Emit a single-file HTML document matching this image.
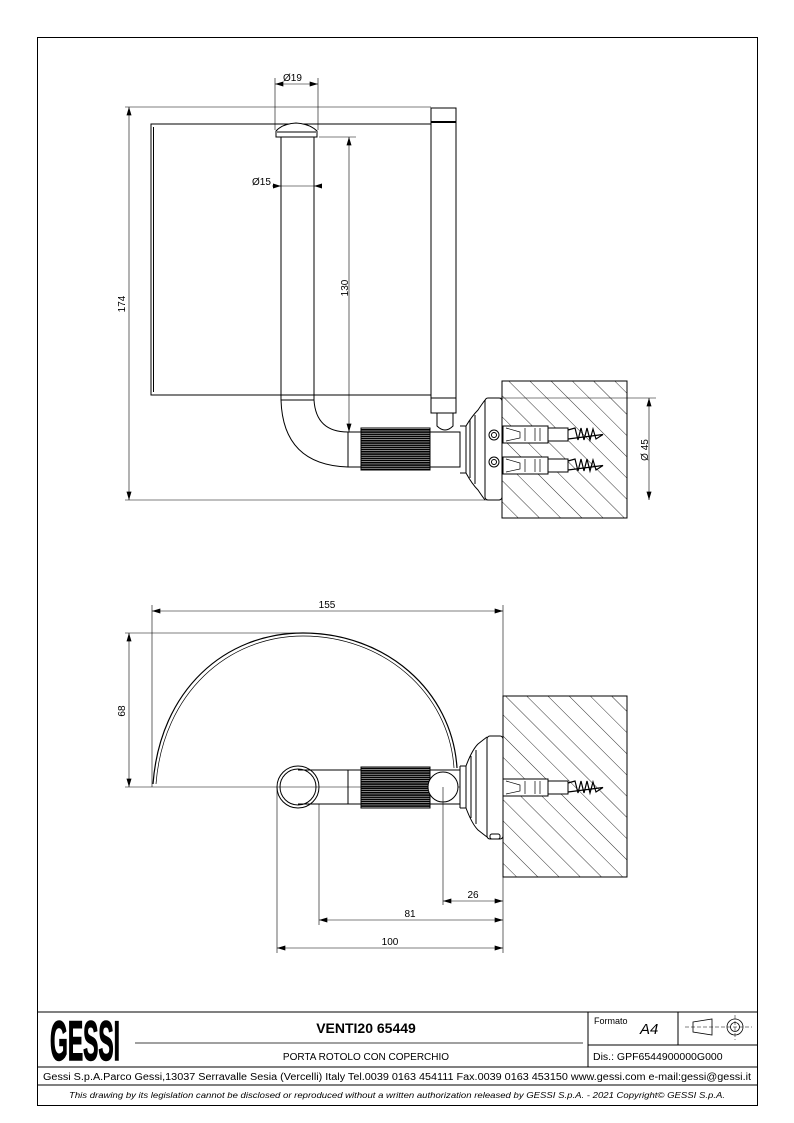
<!DOCTYPE html>
<html><head><meta charset="utf-8"><style>
html,body{margin:0;padding:0;background:#fff}
svg{display:block}
text{font-family:"Liberation Sans",sans-serif;fill:#000}
</style></head><body>
<svg width="794" height="1123" viewBox="0 0 794 1123" xmlns="http://www.w3.org/2000/svg">
<defs>
<marker id="a" viewBox="0 0 10 6" refX="10" refY="3" markerWidth="9" markerHeight="5" orient="auto-start-reverse" markerUnits="userSpaceOnUse"><path d="M0,0 L10,3 L0,6z" fill="#000"/></marker>
<pattern id="h" patternUnits="userSpaceOnUse" width="15" height="15" patternTransform="rotate(-45)"><line x1="0" y1="0" x2="0" y2="15" stroke="#000" stroke-width="0.8"/></pattern>
<pattern id="k" patternUnits="userSpaceOnUse" width="69" height="2.2"><rect width="69" height="1.7" fill="#000"/></pattern>
</defs>
<rect x="0" y="0" width="794" height="1123" fill="#fff"/>
<rect x="37.5" y="37.5" width="720" height="1068" fill="none" stroke="#000" stroke-width="1"/>

<g fill="none" stroke="#000" stroke-width="1">
<line x1="275" y1="78" x2="275" y2="130" stroke-width="0.6"/><line x1="318" y1="78" x2="318" y2="130" stroke-width="0.6"/>
<line x1="275" y1="84" x2="318" y2="84" stroke-width="0.6" marker-start="url(#a)" marker-end="url(#a)"/>
<line x1="125" y1="107" x2="431" y2="107" stroke-width="0.6"/>
<line x1="125" y1="500" x2="500" y2="500" stroke-width="0.6"/>
<line x1="129" y1="107" x2="129" y2="500" stroke-width="0.6" marker-start="url(#a)" marker-end="url(#a)"/>
<rect x="151" y="124" width="280" height="271"/>
<line x1="153.5" y1="127" x2="153.5" y2="392"/>
<rect x="431" y="108" width="25" height="305"/>
<line x1="431" y1="122" x2="456" y2="122" stroke-width="2"/>
<line x1="431" y1="398" x2="456" y2="398"/>
<path d="M276,137 L276,131 Q282,124 296,123 Q310,124 317,131 L317,137 Z" fill="#fff"/>
<line x1="277" y1="132" x2="316" y2="132"/>
<line x1="281" y1="137" x2="281" y2="400"/><line x1="314" y1="137" x2="314" y2="400"/>
<line x1="281" y1="400" x2="314" y2="400"/>
<path d="M281,400 Q283,465 348,467"/>
<path d="M314,400 Q316,432 348,432"/>
<line x1="272" y1="186" x2="322" y2="186" stroke-width="0.6"/>
<path d="M281,186 l-8,-2.5 v5z M314,186 l8,-2.5 v5z" fill="#000" stroke="none"/>
<line x1="319" y1="137" x2="356" y2="137" stroke-width="0.6"/>
<line x1="349" y1="137" x2="349" y2="432" stroke-width="0.6" marker-start="url(#a)" marker-end="url(#a)"/>
<rect x="348" y="432" width="13" height="35"/>
<rect x="361" y="428" width="69" height="42" fill="url(#k)"/>
<rect x="361" y="428" width="69" height="42"/>
<rect x="430" y="432" width="30" height="35"/>
<path d="M437,413 V426 Q445,434 453,426 V413"/>
<path d="M460,432 V467 M460,426 H466 V473 H460 M466,426 Q472,416 478,410 Q482,404 485,400 M466,473 Q472,484 478,490 Q482,496 485,500"/>
<path d="M470,420 V478 M475,415 V484"/>
<rect x="485" y="398" width="17" height="102" rx="3" fill="#fff"/>
<circle cx="494" cy="435" r="5"/><circle cx="494" cy="435" r="2.5"/>
<circle cx="494" cy="462" r="5"/><circle cx="494" cy="462" r="2.5"/>
<rect x="502" y="381" width="125" height="137" fill="url(#h)"/>
<rect x="502" y="381" width="125" height="137"/>
<g fill="#fff">
<rect x="503" y="426" width="45" height="17"/><rect x="548" y="428" width="20" height="13"/>
<rect x="503" y="457" width="45" height="17"/><rect x="548" y="459" width="20" height="13"/>
</g>
<path d="M506,428 L520,432 V438 L506,441 M525,428 V441 M535,428 V441 M540,428 V441" stroke-width="0.7"/>
<path d="M506,459 L520,463 V469 L506,472 M525,459 V472 M535,459 V472 M540,459 V472" stroke-width="0.7"/>
<path d="M568,430 L575,428 L578,440 L581,428 L584,440 L587,428 L590,440 L593,429 L596,439 L603,434.5 L568,439" stroke-width="1.2"/>
<path d="M568,461 L575,459 L578,471 L581,459 L584,471 L587,459 L590,471 L593,460 L596,470 L603,465.5 L568,470" stroke-width="1.2"/>
<line x1="490" y1="398" x2="656" y2="398" stroke-width="0.6"/>
<line x1="649" y1="398" x2="649" y2="500" stroke-width="0.6" marker-start="url(#a)" marker-end="url(#a)"/>

<line x1="152" y1="605" x2="152" y2="787" stroke-width="0.6"/>
<line x1="503" y1="605" x2="503" y2="953" stroke-width="0.6"/>
<line x1="152" y1="611" x2="503" y2="611" stroke-width="0.6" marker-start="url(#a)" marker-end="url(#a)"/>
<line x1="125" y1="633" x2="305" y2="633" stroke-width="0.6"/>
<line x1="125" y1="787" x2="460" y2="787" stroke-width="0.6"/>
<line x1="129" y1="633" x2="129" y2="787" stroke-width="0.6" marker-start="url(#a)" marker-end="url(#a)"/>
<path d="M153,784 C160,690 225,633 303,633 C385,633 452,690 457,768" stroke-width="1.2"/>
<path d="M156,784 C163,693 228,636 303,636 C383,636 449,692 454,768" stroke-width="0.7"/>
<circle cx="298" cy="787" r="21"/><circle cx="298" cy="787" r="18"/>
<line x1="298" y1="770" x2="361" y2="770"/><line x1="298" y1="804" x2="361" y2="804"/>
<line x1="348" y1="770" x2="348" y2="804"/>
<rect x="361" y="767" width="69" height="41" fill="url(#k)"/>
<rect x="361" y="767" width="69" height="41"/>
<line x1="430" y1="770" x2="460" y2="770"/><line x1="430" y1="804" x2="460" y2="804"/>
<circle cx="443" cy="787" r="15" fill="#fff"/>
<path d="M460,766 V808 M460,766 H466 V808 H460 M466,766 Q472,750 478,744 Q483,740 487,737 M466,808 Q472,824 478,830 Q483,834 487,837"/>
<path d="M471,756 V818 M476,750 V824"/>
<rect x="487" y="736" width="16" height="103" rx="3" fill="#fff"/>
<rect x="490" y="834" width="10" height="5" rx="2"/>
<rect x="503" y="696" width="124" height="181" fill="url(#h)"/>
<rect x="503" y="696" width="124" height="181"/>
<rect x="503" y="779" width="45" height="17" fill="#fff"/><rect x="548" y="781" width="20" height="13" fill="#fff"/>
<path d="M506,781 L520,785 V791 L506,794 M525,781 V794 M535,781 V794 M540,781 V794" stroke-width="0.7"/>
<path d="M568,783 L575,781 L578,793 L581,781 L584,793 L587,781 L590,793 L593,782 L596,792 L603,787.5 L568,792" stroke-width="1.2"/>
<line x1="443" y1="787" x2="443" y2="905" stroke-width="0.6"/>
<line x1="319" y1="804" x2="319" y2="925" stroke-width="0.6"/>
<line x1="277" y1="787" x2="277" y2="953" stroke-width="0.6"/>
<line x1="443" y1="901" x2="503" y2="901" stroke-width="0.6" marker-start="url(#a)" marker-end="url(#a)"/>
<line x1="319" y1="920" x2="503" y2="920" stroke-width="0.6" marker-start="url(#a)" marker-end="url(#a)"/>
<line x1="277" y1="948" x2="503" y2="948" stroke-width="0.6" marker-start="url(#a)" marker-end="url(#a)"/>

<line x1="37" y1="1012" x2="757" y2="1012"/>
<line x1="37" y1="1067" x2="757" y2="1067"/>
<line x1="37" y1="1085" x2="757" y2="1085"/>
<line x1="588" y1="1012" x2="588" y2="1067"/>
<line x1="678" y1="1012" x2="678" y2="1045"/>
<line x1="588" y1="1045" x2="757" y2="1045"/>
<line x1="135" y1="1043" x2="583" y2="1043" stroke-width="0.8"/>
<path d="M693,1022 L712,1019 V1035 L693,1032 Z" stroke-width="0.8"/>
<circle cx="735" cy="1027" r="8" stroke-width="0.8"/><circle cx="735" cy="1027" r="4.5" stroke-width="0.8"/>
<line x1="685" y1="1027" x2="752" y2="1027" stroke-width="0.5" stroke-dasharray="4,2"/>
<line x1="735" y1="1015" x2="735" y2="1040" stroke-width="0.5" stroke-dasharray="4,2"/>
</g>

<text x="283" y="81" font-size="10">Ø19</text>
<text x="252" y="185" font-size="10">Ø15</text>
<text transform="translate(348,288) rotate(-90)" font-size="10" text-anchor="middle">130</text>
<text transform="translate(125,304) rotate(-90)" font-size="10" text-anchor="middle">174</text>
<text transform="translate(648,450) rotate(-90)" font-size="10" text-anchor="middle">Ø 45</text>
<text x="327" y="608" font-size="10" text-anchor="middle">155</text>
<text transform="translate(125,711) rotate(-90)" font-size="10" text-anchor="middle">68</text>
<text x="473" y="898" font-size="10" text-anchor="middle">26</text>
<text x="410" y="917" font-size="10" text-anchor="middle">81</text>
<text x="390" y="945" font-size="10" text-anchor="middle">100</text>

<text x="50" y="1060" font-size="56" font-weight="bold" textLength="70" lengthAdjust="spacingAndGlyphs" stroke="#000" stroke-width="1.5">GESSI</text>
<text x="366" y="1033" font-size="14" font-weight="bold" text-anchor="middle">VENTI20 65449</text>
<text x="366" y="1060" font-size="10" text-anchor="middle">PORTA ROTOLO CON COPERCHIO</text>
<text x="594" y="1024" font-size="9">Formato</text>
<text x="640" y="1034" font-size="15" font-style="italic">A4</text>
<text x="593" y="1060" font-size="10.5">Dis.: GPF6544900000G000</text>
<text x="397" y="1080" font-size="10" text-anchor="middle" textLength="708" lengthAdjust="spacingAndGlyphs">Gessi S.p.A.Parco Gessi,13037 Serravalle Sesia (Vercelli) Italy Tel.0039 0163 454111 Fax.0039 0163 453150 www.gessi.com e-mail:gessi@gessi.it</text>
<text x="397" y="1098" font-size="8" font-style="italic" text-anchor="middle" textLength="656" lengthAdjust="spacingAndGlyphs">This drawing by its legislation cannot be disclosed or reproduced without a written authorization released by GESSI S.p.A. - 2021 Copyright© GESSI S.p.A.</text>
</svg>
</body></html>
